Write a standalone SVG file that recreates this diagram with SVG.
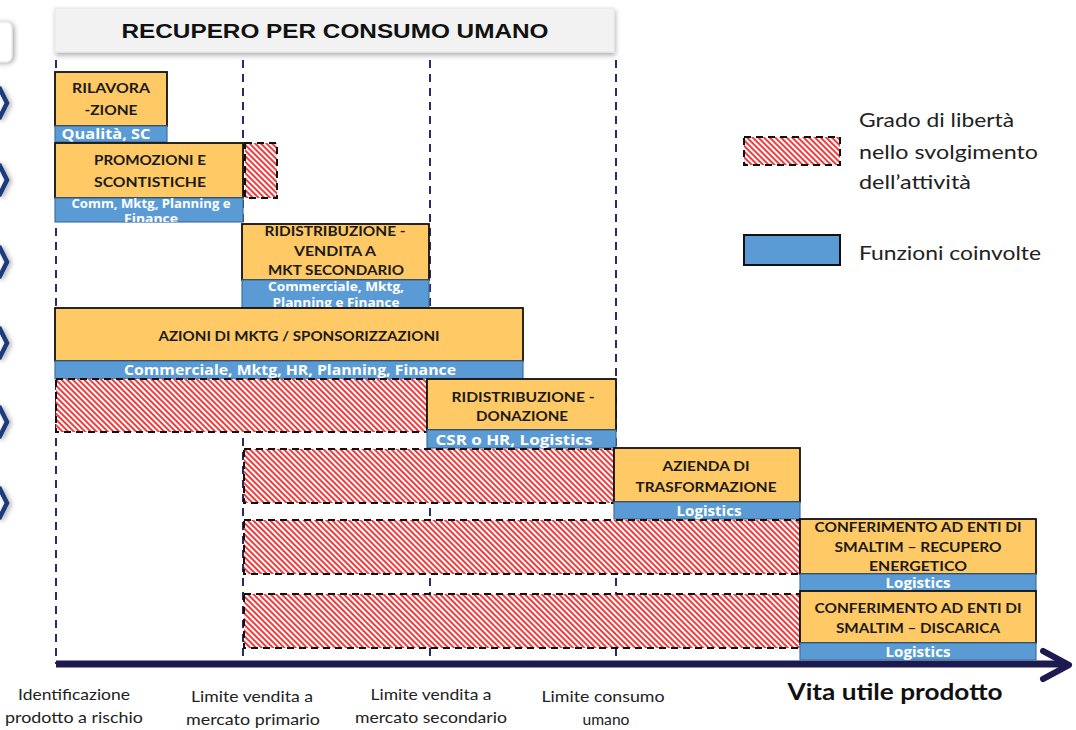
<svg xmlns="http://www.w3.org/2000/svg" width="1076" height="730" viewBox="0 0 1076 730">
<style>
.ob{fill:#FFC965;stroke:#111;stroke-width:1.8}
.bb{fill:#5B9BD5;stroke:#41719C;stroke-width:1.2}
.hz{fill:url(#hatch);stroke:#111;stroke-width:2;stroke-dasharray:7 5}
.ot{font-family:Lato,"Liberation Sans",sans-serif;font-weight:700;font-size:14px;fill:#1a1a1a;text-anchor:middle}
.bt{font-family:"Open Sans","DejaVu Sans",sans-serif;font-weight:700;font-size:13.5px;fill:#fff;text-anchor:middle}
.bs{font-size:12px}
.bx{font-size:11.5px}
.lt{font-family:Lato,"Liberation Sans",sans-serif;font-size:20px;fill:#222}
.ax{font-family:Lato,"Liberation Sans",sans-serif;font-size:16px;fill:#222;text-anchor:middle}
.grid{stroke:#2B2A66;stroke-width:2;stroke-dasharray:8 6;fill:none}
.chev{fill:none;stroke:#1C3A7C;stroke-width:4.5;stroke-linejoin:miter}
</style>
<defs>
<pattern id="hatch" width="4" height="4" patternUnits="userSpaceOnUse" patternTransform="rotate(45)">
<rect width="4" height="4" fill="#fff"/>
<line x1="0" y1="1" x2="4" y2="1" stroke="#F01818" stroke-width="1.7"/>
</pattern>
<filter id="sh" x="-10%" y="-30%" width="120%" height="170%">
<feDropShadow dx="1" dy="3" stdDeviation="2.5" flood-color="#000" flood-opacity="0.3"/>
</filter>
<filter id="sh2" x="-100%" y="-50%" width="300%" height="200%">
<feDropShadow dx="2" dy="1" stdDeviation="2.5" flood-color="#000" flood-opacity="0.35"/>
</filter>
<clipPath id="clipPromo"><rect x="55" y="198" width="188" height="24"/></clipPath>
<clipPath id="clipRid"><rect x="242" y="224" width="187" height="56"/></clipPath>
</defs>
<rect width="1076" height="730" fill="#fff"/>

<g id="left-edge">
<rect x="-20" y="22" width="32" height="40" rx="6" fill="#fff" stroke="#e3e3e3" filter="url(#sh2)"/>
<polyline class="chev" points="-1,87 7,103 -1,119" filter="url(#sh2)"/>
<polyline class="chev" points="-1,164 7,180 -1,196" filter="url(#sh2)"/>
<polyline class="chev" points="-1,246 7,262 -1,278" filter="url(#sh2)"/>
<polyline class="chev" points="-1,327 7,343 -1,359" filter="url(#sh2)"/>
<polyline class="chev" points="-1,406 7,422 -1,438" filter="url(#sh2)"/>
<polyline class="chev" points="-1,487 7,503 -1,519" filter="url(#sh2)"/>
</g>

<g id="title">
<rect x="55" y="8" width="559" height="44" fill="#F2F2F2" stroke="#e6e6e6" filter="url(#sh)"/>
<text x="335" y="37.5" font-family="'Liberation Sans',Arial,sans-serif" font-weight="700" font-size="21" fill="#111" text-anchor="middle" textLength="427" lengthAdjust="spacingAndGlyphs">RECUPERO PER CONSUMO UMANO</text>
</g>

<g id="connectors">
<line class="grid" x1="56" y1="60" x2="56" y2="664"/>
<line class="grid" x1="243" y1="60" x2="243" y2="664"/>
<line class="grid" x1="430" y1="60" x2="430" y2="664"/>
<line class="grid" x1="616" y1="60" x2="616" y2="664"/>
<line x1="56" y1="664" x2="1066" y2="664" stroke="#1C1A4F" stroke-width="7"/>
<polyline points="1043,651 1069,665 1043,679" fill="none" stroke="#1C1A4F" stroke-width="6" stroke-linecap="round" stroke-linejoin="round"/>
</g>

<g id="node-rilavorazione">
<rect class="ob" x="55" y="72" width="112" height="54"/>
<text class="ot" x="111" y="93" textLength="78" lengthAdjust="spacingAndGlyphs">RILAVORA</text>
<text class="ot" x="111" y="115" textLength="53" lengthAdjust="spacingAndGlyphs">-ZIONE</text>
<rect class="bb" x="55" y="126" width="112" height="16"/>
<text class="bt" x="106" y="139" textLength="89" lengthAdjust="spacingAndGlyphs">Qualità, SC</text>
</g>

<g id="node-promozioni">
<rect class="hz" x="245" y="143" width="32" height="55"/>
<rect class="ob" x="55" y="143" width="188" height="55"/>
<text class="ot" x="150" y="165" textLength="112" lengthAdjust="spacingAndGlyphs">PROMOZIONI E</text>
<text class="ot" x="150" y="187" textLength="112" lengthAdjust="spacingAndGlyphs">SCONTISTICHE</text>
<rect class="bb" x="55" y="198" width="188" height="24"/>
<g clip-path="url(#clipPromo)">
<text class="bt bs" x="151" y="208" textLength="159" lengthAdjust="spacingAndGlyphs">Comm, Mktg, Planning e</text>
<text class="bt bs" x="151" y="223" textLength="54" lengthAdjust="spacingAndGlyphs">Finance</text>
</g>
</g>

<g id="node-ridistribuzione-vendita">
<rect class="ob" x="242" y="224" width="187" height="56"/>
<g clip-path="url(#clipRid)">
<text class="ot" x="335" y="236" textLength="141" lengthAdjust="spacingAndGlyphs">RIDISTRIBUZIONE -</text>
<text class="ot" x="335" y="256" textLength="82" lengthAdjust="spacingAndGlyphs">VENDITA A</text>
<text class="ot" x="336" y="275" textLength="136" lengthAdjust="spacingAndGlyphs">MKT SECONDARIO</text>
</g>
<rect class="bb" x="242" y="280" width="187" height="28"/>
<text class="bt bx" x="336" y="290.5" textLength="136" lengthAdjust="spacingAndGlyphs">Commerciale, Mktg,</text>
<text class="bt bx" x="336" y="306.5" textLength="127" lengthAdjust="spacingAndGlyphs">Planning e Finance</text>
</g>

<g id="node-azioni-mktg">
<rect class="ob" x="55" y="308" width="468" height="53"/>
<text class="ot" x="299" y="341" textLength="281" lengthAdjust="spacingAndGlyphs">AZIONI DI MKTG / SPONSORIZZAZIONI</text>
<rect class="bb" x="55" y="361" width="468" height="18"/>
<text class="bt" x="290" y="375" textLength="332" lengthAdjust="spacingAndGlyphs">Commerciale, Mktg, HR, Planning, Finance</text>
</g>

<g id="node-donazione">
<rect class="hz" x="56" y="379" width="371" height="53"/>
<rect class="ob" x="427" y="379" width="189" height="51"/>
<text class="ot" x="523" y="402" textLength="143" lengthAdjust="spacingAndGlyphs">RIDISTRIBUZIONE -</text>
<text class="ot" x="522" y="421" textLength="92" lengthAdjust="spacingAndGlyphs">DONAZIONE</text>
<rect class="bb" x="427" y="430" width="189" height="18"/>
<text class="bt" x="514" y="445" textLength="157" lengthAdjust="spacingAndGlyphs">CSR o HR, Logistics</text>
</g>

<g id="node-trasformazione">
<rect class="hz" x="244" y="449" width="370" height="54"/>
<rect class="ob" x="614" y="448" width="186" height="54"/>
<text class="ot" x="706" y="471" textLength="87" lengthAdjust="spacingAndGlyphs">AZIENDA DI</text>
<text class="ot" x="706" y="492" textLength="141" lengthAdjust="spacingAndGlyphs">TRASFORMAZIONE</text>
<rect class="bb" x="614" y="502" width="186" height="17"/>
<text class="bt" x="709" y="516" textLength="65" lengthAdjust="spacingAndGlyphs">Logistics</text>
</g>

<g id="node-recupero-energetico">
<rect class="hz" x="244" y="520" width="556" height="54"/>
<rect class="ob" x="800" y="519" width="236" height="55"/>
<text class="ot" x="918" y="532" textLength="207" lengthAdjust="spacingAndGlyphs">CONFERIMENTO AD ENTI DI</text>
<text class="ot" x="918" y="552" textLength="167" lengthAdjust="spacingAndGlyphs">SMALTIM – RECUPERO</text>
<text class="ot" x="918" y="571" textLength="98" lengthAdjust="spacingAndGlyphs">ENERGETICO</text>
<rect class="bb" x="800" y="574" width="236" height="17"/>
<text class="bt" x="918" y="588" textLength="65" lengthAdjust="spacingAndGlyphs">Logistics</text>
</g>

<g id="node-discarica">
<rect class="hz" x="244" y="594" width="556" height="54"/>
<rect class="ob" x="800" y="591" width="236" height="52"/>
<text class="ot" x="918" y="613" textLength="207" lengthAdjust="spacingAndGlyphs">CONFERIMENTO AD ENTI DI</text>
<text class="ot" x="918" y="633" textLength="164" lengthAdjust="spacingAndGlyphs">SMALTIM – DISCARICA</text>
<rect class="bb" x="800" y="643" width="236" height="17"/>
<text class="bt" x="918" y="657" textLength="65" lengthAdjust="spacingAndGlyphs">Logistics</text>
</g>

<g id="legend">
<rect class="hz" x="744" y="137" width="96" height="28"/>
<text class="lt" x="859" y="127" textLength="155" lengthAdjust="spacingAndGlyphs">Grado di libertà</text>
<text class="lt" x="859" y="159" textLength="179" lengthAdjust="spacingAndGlyphs">nello svolgimento</text>
<text class="lt" x="859" y="189" textLength="112" lengthAdjust="spacingAndGlyphs">dell’attività</text>
<rect x="744" y="235" width="96" height="30" fill="#5B9BD5" stroke="#111" stroke-width="2"/>
<text class="lt" x="859" y="260" textLength="182" lengthAdjust="spacingAndGlyphs">Funzioni coinvolte</text>
</g>

<g id="axis-labels">
<text class="ax" x="74" y="700" textLength="112" lengthAdjust="spacingAndGlyphs">Identificazione</text>
<text class="ax" x="74" y="723" textLength="138" lengthAdjust="spacingAndGlyphs">prodotto a rischio</text>
<text class="ax" x="252" y="702" textLength="122" lengthAdjust="spacingAndGlyphs">Limite vendita a</text>
<text class="ax" x="253" y="725" textLength="134" lengthAdjust="spacingAndGlyphs">mercato primario</text>
<text class="ax" x="431" y="700" textLength="121" lengthAdjust="spacingAndGlyphs">Limite vendita a</text>
<text class="ax" x="431" y="723" textLength="152" lengthAdjust="spacingAndGlyphs">mercato secondario</text>
<text class="ax" x="603" y="702" textLength="123" lengthAdjust="spacingAndGlyphs">Limite consumo</text>
<text class="ax" x="606" y="725" textLength="47" lengthAdjust="spacingAndGlyphs">umano</text>
<text x="895" y="700" font-family="Lato,'Liberation Sans',sans-serif" font-weight="700" font-size="22" fill="#111" text-anchor="middle" textLength="215" lengthAdjust="spacingAndGlyphs">Vita utile prodotto</text>
</g>
</svg>
